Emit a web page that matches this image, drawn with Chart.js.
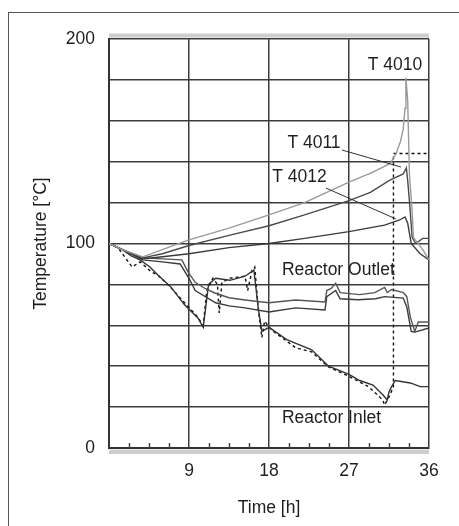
<!DOCTYPE html>
<html>
<head>
<meta charset="utf-8">
<script src="https://cdn.jsdelivr.net/npm/chart.js@4.4.1/dist/chart.umd.min.js"></script>
<style>
  html, body { margin: 0; padding: 0; background: #fff; }
  #wrap { position: relative; width: 459px; height: 526px; }
  #frame { position: absolute; left: 8px; top: 12px; right: -2px; bottom: -2px; border-left: 1px solid #555; border-top: 1px solid #555; pointer-events: none; }
  canvas { position: absolute; left: 0; top: 0; }
</style>
</head>
<body>
<div id="wrap">
  <canvas id="c" width="459" height="526"></canvas>
  <div id="frame"></div>
</div>
<script>
// ---- Data (time in h, temperature in °C) ----
const xTicks = [9, 18, 27, 36];
const yTickLabels = [0, 100, 200];

const t4010T = [0, 1.5, 3.8, 6, 9, 13.5, 18, 22, 27, 29.5, 31.6, 32.3, 32.8, 33.1, 33.3, 33.4, 33.6, 33.8, 34.1, 34.25, 35.3, 36];
const t4010V = [100, 97, 93.5, 97, 101.8, 107.5, 114, 120, 130, 134.5, 139, 144, 150, 156, 166, 181, 170, 134, 116, 103, 97, 92];

const t4011T = [0, 1.5, 3.8, 6, 9, 13.5, 18, 22, 27, 29.4, 31.6, 33.1, 33.45, 33.6, 33.85, 34.1, 34.5, 35.3, 36];
const t4011V = [100, 97, 93, 95, 99, 104, 108.7, 114, 121, 125, 131, 134, 137, 131, 118, 103, 100, 102.5, 102.5];

const t4012T = [0, 1.5, 3.8, 6, 9, 13.5, 18, 22, 27, 31, 32.7, 33.3, 33.6, 34, 35, 36];
const t4012V = [100, 97, 92.5, 93.5, 95, 98, 100, 102.5, 105.8, 109, 111.5, 113, 110, 100, 95, 92];

const outlet1T = [0, 1.5, 3.8, 6, 8.2, 8.9, 9.7, 10.8, 11.9, 13.5, 15.3, 18, 21, 24.3, 24.5, 25, 25.5, 26, 28.2, 29.9, 31, 31.3, 31.8, 33.1, 33.5, 33.9, 34.4, 34.8, 36];
const outlet1V = [100, 97, 93, 92.5, 92, 86, 81, 78, 75.8, 73.5, 72.4, 71, 72.4, 71.4, 77, 78, 80.6, 76, 75, 76, 78.5, 76, 77.5, 76, 74, 64, 57, 61.6, 61.6];

const outlet2T = [0, 1.5, 3.8, 6, 8, 9, 9.7, 12, 13.5, 15.3, 18, 21, 24.3, 24.5, 25.5, 26, 28, 30, 31, 33.1, 33.5, 34, 34.4, 36];
const outlet2V = [100, 97, 92, 91, 90, 83, 77, 71, 69.5, 68.5, 66.5, 68.5, 67.5, 74, 77, 73, 72.5, 73, 74, 73.3, 69, 57, 56.7, 58.7];

const inletT = [0, 1.5, 2.5, 3.5, 4.6, 5.5, 6.9, 8.5, 10, 10.6, 11.2, 12, 13.6, 15.3, 16.3, 16.8, 17.2, 18, 20, 22.8, 24.7, 27, 28.2, 29.7, 30.8, 31.3, 31.5, 31.8, 32.2, 33.9, 35, 36];
const inletV = [100, 97, 94, 92, 88.5, 84.6, 79, 70, 63.6, 59, 80, 83, 82, 84, 87, 68, 57, 59, 53, 48, 40, 36, 33, 30.8, 26, 23.5, 27.4, 30, 33, 31.8, 30, 30];

const inletSetT = [0, 1, 2.6, 3.5, 4.8, 5.5, 6.9, 8.5, 9.8, 10.6, 11, 11.7, 12.2, 12.4, 12.7, 13.6, 15.3, 15.6, 16.1, 16.4, 16.8, 17.2, 17.5, 18.3, 21, 22.8, 24.7, 27, 29.2, 30.8, 31, 31.5, 32, 32, 36];
const inletSetV = [100, 98, 88.5, 91, 86, 84.5, 78.7, 71, 65, 60, 77, 83, 80, 66, 81, 83, 84, 77, 87, 88.5, 67.5, 54, 62, 57.7, 49, 47, 39.6, 35, 30, 23.5, 21, 25, 30, 144, 144];

// ---- Annotations (data coordinates) ----
const labelTexts = ['T 4010', 'T 4011', 'T 4012', 'Reactor Outlet', 'Reactor Inlet'];
const labelT = [32.175, 23.06, 21.43, 25.8, 25.04];
const labelV = [187.3, 149.1, 132.5, 87.0, 14.4];
const leaderT = [[26.21, 32.85], [24.41, 32.29]];
const leaderV = [[145.7, 137.4], [127.1, 112.0]];

const FONT = "'Liberation Sans', Arial, Helvetica, sans-serif";
const TXT = '#1e1e1e';

function pts(ts, vs) { return ts.map((t, i) => ({ x: t, y: vs[i] })); }

function ds(ts, vs, color, width, dash) {
  return {
    data: pts(ts, vs), borderColor: color, borderWidth: width,
    borderDash: dash || [], pointRadius: 0, tension: 0, fill: false
  };
}

const decor = {
  id: 'decor',
  beforeDraw(chart) {
    const { ctx, chartArea: a } = chart;
    ctx.save();
    ctx.fillStyle = '#cdcdcd';
    ctx.fillRect(a.left, a.top - 5.5, a.right - a.left, 4);
    ctx.fillRect(a.left, a.bottom + 1.5, a.right - a.left, 4.5);
    ctx.restore();
  },
  afterDatasetsDraw(chart) {
    const { ctx, chartArea: a, scales: { x, y } } = chart;
    ctx.save();
    // minor tick marks along the bottom
    ctx.strokeStyle = '#444';
    ctx.lineWidth = 1.5;
    for (let k = 1; k < 16; k++) {
      if (k % 4 === 0) continue;
      const px = Math.round(x.getPixelForValue(k * 2.25)) + 0.5;
      ctx.beginPath();
      ctx.moveTo(px, a.bottom);
      ctx.lineTo(px, a.bottom - 5);
      ctx.stroke();
    }
    // leader lines
    ctx.strokeStyle = '#333';
    ctx.lineWidth = 1;
    leaderT.forEach((lt, i) => {
      ctx.beginPath();
      ctx.moveTo(x.getPixelForValue(lt[0]), y.getPixelForValue(leaderV[i][0]));
      ctx.lineTo(x.getPixelForValue(lt[1]), y.getPixelForValue(leaderV[i][1]));
      ctx.stroke();
    });
    // labels
    ctx.fillStyle = TXT;
    ctx.font = '17.5px ' + FONT;
    ctx.textAlign = 'center';
    ctx.textBaseline = 'middle';
    labelTexts.forEach((s, i) => {
      ctx.fillText(s, x.getPixelForValue(labelT[i]), y.getPixelForValue(labelV[i]));
    });
    ctx.restore();
  }
};

new Chart(document.getElementById('c'), {
  type: 'line',
  data: {
    datasets: [
      ds(t4010T, t4010V, '#9a9a9a', 1.4),
      ds(t4011T, t4011V, '#4a4a4a', 1.4),
      ds(t4012T, t4012V, '#3a3a3a', 1.4),
      ds(outlet1T, outlet1V, '#555', 1.4),
      ds(outlet2T, outlet2V, '#3a3a3a', 1.4),
      ds(inletT, inletV, '#333', 1.4),
      ds(inletSetT, inletSetV, '#111', 1.4, [3, 3])
    ]
  },
  options: {
    responsive: false,
    animation: false,
    devicePixelRatio: 1,
    layout: { padding: { left: 0, top: 39, right: 30, bottom: 0 } },
    plugins: { legend: { display: false }, tooltip: { enabled: false } },
    scales: {
      x: {
        type: 'linear', min: 0, max: 36,
        afterFit(s) { s.height = 78; },
        ticks: {
          stepSize: 9, padding: 13, color: TXT,
          font: { family: FONT, size: 17.5 },
          callback: v => xTicks.includes(v) ? String(v) : ''
        },
        grid: { color: '#3c3c3c', lineWidth: 1.5, drawTicks: false },
        border: { display: true, color: '#333', width: 2 },
        title: { display: true, text: 'Time [h]', color: TXT, font: { family: FONT, size: 17.5 }, padding: { top: 4, bottom: 7.5 } }
      },
      y: {
        type: 'linear', min: 0, max: 200,
        afterFit(s) { s.width = 109; },
        ticks: {
          stepSize: 20, padding: 14, color: TXT,
          font: { family: FONT, size: 17.5 },
          callback: v => yTickLabels.includes(v) ? String(v) : ''
        },
        grid: { color: '#3c3c3c', lineWidth: 1.5, drawTicks: false },
        border: { display: true, color: '#333', width: 2 },
        title: { display: true, text: 'Temperature [°C]', color: TXT, font: { family: FONT, size: 17.5 }, padding: { top: 31, bottom: 0 } }
      }
    }
  },
  plugins: [decor]
});
</script>
</body>
</html>
